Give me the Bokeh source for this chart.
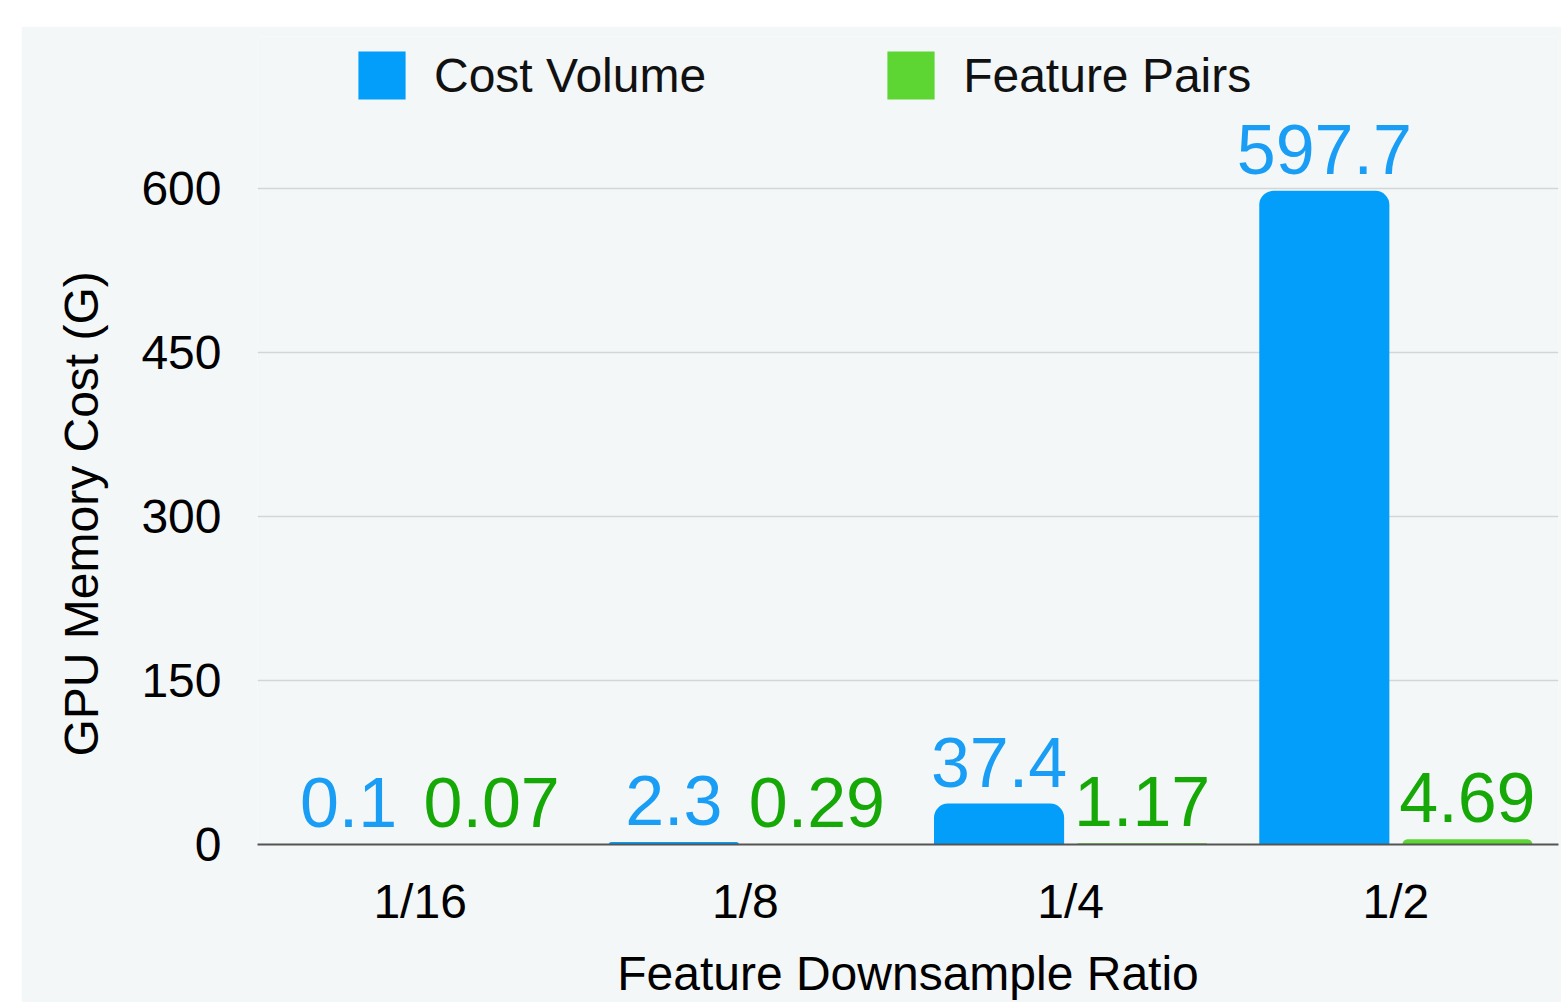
from bokeh.plotting import figure
from bokeh.models import ColumnDataSource, LabelSet, Legend, LegendItem, Range1d, FixedTicker
from bokeh.transform import dodge
from bokeh.core.properties import value
from bokeh.embed import file_html
from bokeh.resources import INLINE

# ---- data ----
categories = ["1/16", "1/8", "1/4", "1/2"]
cost_volume = [0.1, 2.3, 37.4, 597.7]
feature_pairs = [0.07, 0.29, 1.17, 4.69]
cost_volume_labels = ["0.1", "2.3", "37.4", "597.7"]
feature_pairs_labels = ["0.07", "0.29", "1.17", "4.69"]
y_ticks = [0, 150, 300, 450, 600]

BLUE = "#039EFA"
BLUE_TXT = "#1A9EF5"
GREEN = "#5DD634"
GREEN_TXT = "#16A806"
BG = "#F3F7F7"
FONT = "Liberation Sans"

# layout: frame from y=36 (top) to y=845 (bottom) on the page, 600 gridline at y=188
y_end = 600 * (845 - 36) / (845 - 188)

src = ColumnDataSource(dict(cat=categories, cv=cost_volume, fp=feature_pairs,
                            cvl=cost_volume_labels, fpl=feature_pairs_labels))

p = figure(x_range=categories, y_range=Range1d(0, y_end), width=1540, height=976,
           output_backend="svg", toolbar_location=None,
           min_border_left=236, min_border_top=10, min_border_right=3, min_border_bottom=157)
p.margin = (26, 0, 0, 21)
p.background_fill_color = BG
p.border_fill_color = BG
p.outline_line_color = None

r1 = p.vbar(x=dodge("cat", -0.22, range=p.x_range), top="cv", width=0.4, source=src,
            fill_color=BLUE, line_color=None, border_radius=(14, 14, 0, 0))
r2 = p.vbar(x=dodge("cat", 0.22, range=p.x_range), top="fp", width=0.4, source=src,
            fill_color=GREEN, line_color=None, border_radius=(14, 14, 0, 0))

lab1 = LabelSet(x=dodge("cat", -0.22, range=p.x_range), y="cv", text="cvl", source=src,
                y_offset=17, text_align="center", text_baseline="alphabetic",
                text_font_size="70px", text_color=BLUE_TXT, text_font=value(FONT))
lab2 = LabelSet(x=dodge("cat", 0.22, range=p.x_range), y="fp", text="fpl", source=src,
                y_offset=17, text_align="center", text_baseline="alphabetic",
                text_font_size="70px", text_color=GREEN_TXT, text_font=value(FONT))
p.add_layout(lab1)
p.add_layout(lab2)

legend = Legend(items=[LegendItem(label="Cost Volume", renderers=[r1]),
                       LegendItem(label="Feature Pairs", renderers=[r2])],
                location=(95, 739), orientation="horizontal",
                glyph_width=59, glyph_height=60, label_height=60,
                label_text_font_size="48px", label_text_font=FONT, label_text_color="#111111",
                label_standoff=23, spacing=175, padding=0, margin=0,
                border_line_color=None, background_fill_alpha=0)
p.add_layout(legend)

# axes
p.yaxis.ticker = FixedTicker(ticks=y_ticks)
p.yaxis.axis_line_color = None
p.yaxis.major_tick_line_color = None
p.yaxis.minor_tick_line_color = None
p.yaxis.major_label_standoff = 30
p.yaxis.major_label_text_font_size = "48px"
p.yaxis.major_label_text_font = FONT
p.yaxis.major_label_text_color = "#000000"
# trailing no-break spaces shift the centred title down to sit on the 0-600 span
p.yaxis.axis_label = "GPU Memory Cost (G)" + "\u00a0" * 11
p.yaxis.axis_label_text_font_size = "48px"
p.yaxis.axis_label_text_font = FONT
p.yaxis.axis_label_text_font_style = "normal"
p.yaxis.axis_label_text_color = "#000000"
p.yaxis.axis_label_standoff = 30

p.xaxis.axis_line_color = "#555555"
p.xaxis.axis_line_width = 2
p.xaxis.major_tick_line_color = None
p.xaxis.minor_tick_line_color = None
p.xaxis.major_label_standoff = 24
p.xaxis.major_label_text_font_size = "48px"
p.xaxis.major_label_text_font = FONT
p.xaxis.major_label_text_color = "#000000"
p.xaxis.axis_label = "Feature Downsample Ratio"
p.xaxis.axis_label_text_font_size = "48px"
p.xaxis.axis_label_text_font = FONT
p.xaxis.axis_label_text_font_style = "normal"
p.xaxis.axis_label_text_color = "#000000"
p.xaxis.axis_label_standoff = 16

p.xgrid.grid_line_color = None
p.ygrid.grid_line_color = "#D3D6D6"
p.ygrid.grid_line_width = 1.5

open("out.html", "w").write(file_html(p, INLINE))
